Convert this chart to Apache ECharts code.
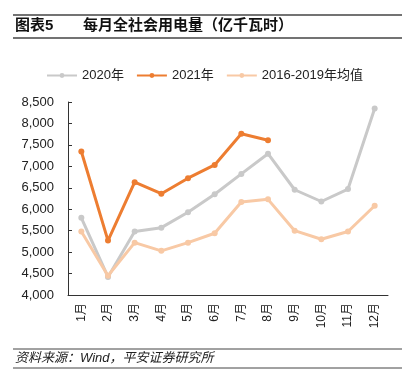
<!DOCTYPE html>
<html>
<head>
<meta charset="utf-8">
<script src="https://cdn.jsdelivr.net/npm/echarts@6/dist/echarts.min.js"></script>
<style>
  html, body { margin: 0; padding: 0; background: #fff; }
  #main { width: 409px; height: 391px; }
</style>
</head>
<body>
<div id="main"></div>
<script>
// 每月全社会用电量（亿千瓦时）
var months = ['1月', '2月', '3月', '4月', '5月', '6月', '7月', '8月', '9月', '10月', '11月', '12月'];
var y2020 = [5800, 4420, 5480, 5570, 5930, 6350, 6824, 7294, 6454, 6180, 6470, 8350];
var y2021 = [7345, 5268, 6631, 6361, 6724, 7033, 7758, 7607];
var avg1619 = [5480, 4450, 5220, 5030, 5220, 5440, 6170, 6230, 5500, 5300, 5480, 6080];
var seriesNames = ['2020年', '2021年', '2016-2019年均值'];

var FONT = '"Liberation Sans", "Noto Sans CJK SC", sans-serif';
var chart = echarts.init(document.getElementById('main'));

function mkSeries(name, data, color) {
  return {
    name: name,
    type: 'line',
    data: data,
    symbol: 'circle',
    symbolSize: 6,
    lineStyle: { width: 3, color: color },
    itemStyle: { color: color },
    z: name === '2021年' ? 3 : 2
  };
}

var option = {
  animation: false,
  textStyle: { fontFamily: FONT },
  color: ['#c9c9c9', '#ed7d31', '#f8c9a5'],
  graphic: [
    { type: 'line', shape: { x1: 13, y1: 15, x2: 402, y2: 15 }, style: { stroke: '#444', lineWidth: 1.5 } },
    { type: 'line', shape: { x1: 13, y1: 38, x2: 402, y2: 38 }, style: { stroke: '#444', lineWidth: 1.5 } },
    { type: 'text', left: 15, top: 18, style: { text: '图表5', font: 'bold 15px ' + FONT, fill: '#111' } },
    { type: 'text', left: 83, top: 18, style: { text: '每月全社会用电量（亿千瓦时）', font: 'bold 15px ' + FONT, fill: '#111' } },
    { type: 'line', shape: { x1: 13, y1: 349, x2: 402, y2: 349 }, style: { stroke: '#444', lineWidth: 1 } },
    { type: 'line', shape: { x1: 13, y1: 368, x2: 402, y2: 368 }, style: { stroke: '#444', lineWidth: 1 } },
    { type: 'text', left: 15, top: 352, style: { text: '资料来源：Wind，平安证券研究所', font: 'italic 13px ' + FONT, fill: '#222' } }
  ],
  legend: {
    top: 64,
    left: 'center',
    itemWidth: 30,
    itemHeight: 6,
    itemGap: 12,
    textStyle: { fontSize: 13, color: '#222', fontFamily: FONT },
    data: seriesNames
  },
  grid: { left: 68, right: 21, top: 102, bottom: 96 },
  xAxis: {
    type: 'category',
    data: months,
    boundaryGap: true,
    axisLine: { lineStyle: { color: '#333', width: 1 } },
    axisTick: { inside: true, length: 4, lineStyle: { color: '#333' } },
    axisLabel: { rotate: 90, fontSize: 12, color: '#222', margin: 8, fontFamily: FONT }
  },
  yAxis: {
    type: 'value',
    min: 4000,
    max: 8500,
    interval: 500,
    splitLine: { show: false },
    axisLine: { show: true, lineStyle: { color: '#333', width: 1 } },
    axisTick: { show: true, inside: true, length: 4, lineStyle: { color: '#333' } },
    axisLabel: {
      fontSize: 13,
      color: '#222',
      margin: 14,
      fontFamily: FONT,
      formatter: function (v) { return v.toLocaleString('en-US'); }
    }
  },
  series: [
    mkSeries(seriesNames[0], y2020, '#c9c9c9'),
    mkSeries(seriesNames[1], y2021, '#ed7d31'),
    mkSeries(seriesNames[2], avg1619, '#f8c9a5')
  ]
};

chart.setOption(option);
</script>
</body>
</html>
